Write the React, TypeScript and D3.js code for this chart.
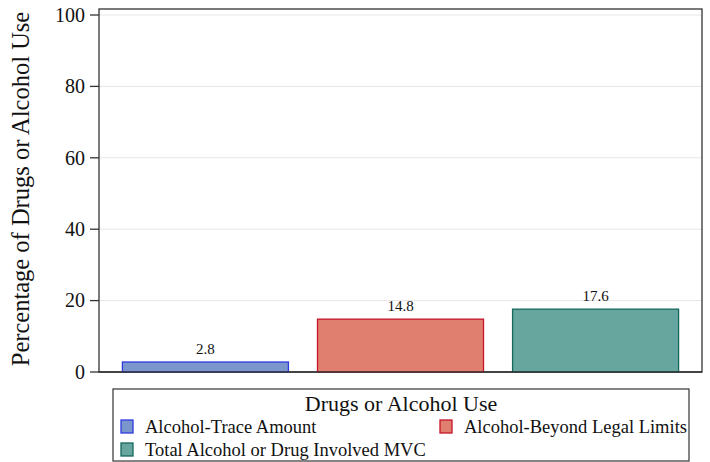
import React from "react";
import * as d3 from "d3";

const categories = ["Alcohol-Trace Amount", "Alcohol-Beyond Legal Limits", "Total Alcohol or Drug Involved MVC"];
const values = [2.8, 14.8, 17.6];
const labels = ["2.8", "14.8", "17.6"];
const fills = ["#7b96cc", "#e07f6f", "#67a59f"];
const strokes = ["#2e3be0", "#c4162a", "#14685c"];
const yTicks = [0, 20, 40, 60, 80, 100];

export default function App() {
  const W = 710, H = 462;
  const left = 99, right = 702, top = 9, bottom = 372;
  const y = d3.scaleLinear().domain([0, 100]).range([bottom, 15]);
  const x = d3.scaleBand<string>().domain(categories).range([left, right]).paddingInner(0.149).paddingOuter(0.12);
  const font = "Liberation Serif";
  const ts = { fontFamily: font };
  return (
    <svg width={W} height={H} style={{ position: "absolute", left: 0, top: 0, fontFamily: font }}>
      <rect x={0} y={0} width={W} height={H} fill="#fff" />
      {yTicks.map((t) => (
        <g key={t}>
          <line x1={left} x2={right} y1={y(t)} y2={y(t)} stroke="#e6e6e6" strokeWidth={1} />
          <line x1={left - 9} x2={left} y1={y(t)} y2={y(t)} stroke="#333" strokeWidth={1.3} />
          <text style={ts} x={left - 14} y={y(t)} dy="0.34em" textAnchor="end" fontSize={20} fill="#111">{t}</text>
        </g>
      ))}
      <rect x={left} y={top} width={right - left} height={bottom - top} fill="none" stroke="#333" strokeWidth={1.3} />
      {categories.map((c, i) => (
        <g key={c}>
          <rect x={x(c)!} y={y(values[i])} width={x.bandwidth()} height={bottom - y(values[i])} fill={fills[i]} stroke={strokes[i]} strokeWidth={1.3} />
          <text style={ts} x={x(c)! + x.bandwidth() / 2} y={y(values[i]) - 8} textAnchor="middle" fontSize={15} fill="#111">{labels[i]}</text>
        </g>
      ))}
      <line x1={left} x2={right} y1={bottom} y2={bottom} stroke="#333" strokeWidth={1.5} />
      <text style={ts} transform={`translate(29,189) rotate(-90)`} textAnchor="middle" fontSize={24.5} fill="#111">Percentage of Drugs or Alcohol Use</text>
      <rect x={113} y={389} width={576} height={72} fill="#fff" stroke="#333" strokeWidth={1.2} />
      <text style={ts} x={401} y={411} textAnchor="middle" fontSize={22} fill="#111">Drugs or Alcohol Use</text>
      {[
        { i: 0, sx: 121, sy: 420, tx: 145, ty: 433 },
        { i: 1, sx: 440, sy: 420, tx: 464, ty: 433 },
        { i: 2, sx: 121, sy: 443, tx: 145, ty: 456 },
      ].map((l) => (
        <g key={l.i}>
          <rect x={l.sx} y={l.sy} width={12} height={13} fill={fills[l.i]} stroke={strokes[l.i]} strokeWidth={1.3} />
          <text style={ts} x={l.tx} y={l.ty} fontSize={18.5} fill="#111">{categories[l.i]}</text>
        </g>
      ))}
    </svg>
  );
}
